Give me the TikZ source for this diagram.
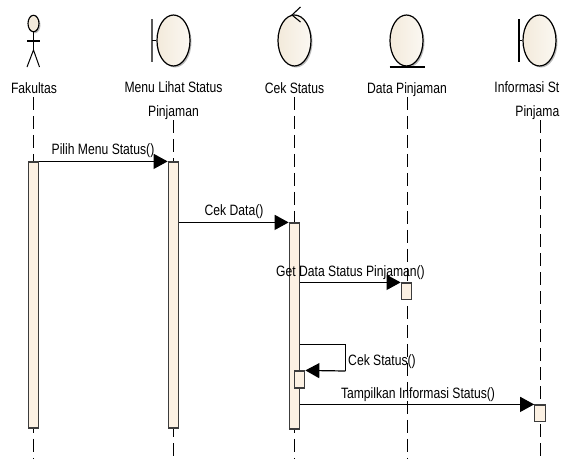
\documentclass[tikz,border=0pt]{standalone}
\usepackage{fontspec}
\setmainfont[FakeStretch=0.81]{Liberation Sans}
\usetikzlibrary{shapes.geometric,arrows.meta,shadows}

\definecolor{creamL}{HTML}{F3EADB}
\definecolor{creamR}{HTML}{FBF8F2}
\definecolor{barfill}{HTML}{FCF1E3}
\definecolor{barline}{HTML}{3C3C3C}

\tikzset{
  objball/.style={ellipse,draw,line width=1.2pt,minimum width=33pt,minimum height=51pt,inner sep=0pt,
    left color=creamL,right color=creamR,
    drop shadow={shadow xshift=1.5pt,shadow yshift=-1.5pt,fill=black!45,opacity=.6}},
  objlabel/.style={font=\fontsize{15}{24}\selectfont,align=center,inner sep=0pt},
  onelabel/.style={objlabel,text height=11pt,text depth=3.5pt},
  msglabel/.style={font=\fontsize{15}{16}\selectfont,inner sep=0pt},
  lifeline/.style={line width=1pt,dash pattern=on 13pt off 6pt},
  actbar/.style={draw=barline,fill=barfill,line width=1.2pt,minimum width=10.5pt,inner sep=0pt},
  msgarrow/.style={line width=1.2pt,-{Triangle[length=14pt,width=15pt]}}
}

\begin{document}
\begin{tikzpicture}[x=1pt,y=-1pt]
  \useasboundingbox (0,0) rectangle (576,459);

  % Labels of the objects
  \node[onelabel] (labFak) at (34,89.5) {Fakultas};
  \node[objlabel] (labMenu) at (173.5,101) {Menu Lihat Status\\Pinjaman};
  \node[onelabel] (labCek) at (294.5,89.5) {Cek Status};
  \node[onelabel] (labData) at (407,89.5) {Data Pinjaman};
  \node[objlabel,align=right,anchor=east] (labInfo) at (559.5,101) {Informasi St\\Pinjama};

  % Free ends of the lifelines
  \coordinate (endFak) at (33.5,459);
  \coordinate (endMenu) at (173.5,459);
  \coordinate (endCek) at (294.5,459);
  \coordinate (endData) at (407,459);
  \coordinate (endInfo) at (540,459);

  % Draw lifelines
  \draw[lifeline] (labFak.south -| endFak) -- (endFak);
  \draw[lifeline] (labMenu.south -| endMenu) -- (endMenu);
  \draw[lifeline] (labCek.south -| endCek) -- (endCek);
  \draw[lifeline] (labData.south -| endData) -- (endData);
  \draw[lifeline] (labInfo.south -| endInfo) -- (endInfo);

  % Draw actor
  \node[ellipse,draw,line width=1.1pt,minimum width=11pt,minimum height=16.5pt,inner sep=0pt,fill=creamL,
    drop shadow={shadow xshift=1.5pt,shadow yshift=-1.5pt,fill=black!45,opacity=.6}] (fakHead) at (33.5,23.5) {};
  \coordinate (fakHip) at (33.5,50);
  \coordinate (fakArmL) at (27,41);
  \coordinate (fakArmR) at (40,41);
  \coordinate (fakLegL) at (27,67);
  \coordinate (fakLegR) at (39.5,67);
  \draw[line width=1pt] (fakHead) -- (fakHip);
  \draw[line width=1.1pt] (fakArmL) -- (fakArmR);
  \draw[line width=1pt] (fakLegL) -- (fakHip) -- (fakLegR);

  % Draw boundary, control and entity objects
  \node[objball] (objMenu) at (173.5,40.5) {};
  \node[objball] (objCek) at (294.5,40.5) {};
  \node[objball] (objData) at (406.5,40.5) {};
  \node[objball] (objInfo) at (539.5,40.5) {};

  \coordinate (menuTop) at (152,19);
  \coordinate (menuBot) at (152,62);
  \draw[line width=1.1pt,black!65] (menuTop) -- (menuBot);
  \draw[line width=1.1pt] (objMenu.west) -- (menuTop |- objMenu.west);

  \coordinate (infoTop) at (519,19);
  \coordinate (infoBot) at (519,62);
  \draw[line width=1.1pt] (infoTop) -- (infoBot);
  \draw[line width=1.1pt] (objInfo.west) -- (infoTop |- objInfo.west);

  \coordinate (cekTipA) at (300.5,7);
  \coordinate (cekTipB) at (292,15);
  \coordinate (cekTipC) at (300.5,22);
  \draw[line width=1.1pt] (cekTipA) -- (cekTipB) -- (cekTipC);

  \coordinate (dataL) at (389.5,67);
  \coordinate (dataR) at (425,67);
  \draw[line width=1.2pt] (dataL) -- (dataR);

  % Draw activation bars
  \node[actbar,minimum height=266pt] (barFak) at (33.5,295) {};
  \node[actbar,minimum height=266pt] (barMenu) at (173.5,295) {};
  \node[actbar,minimum height=206pt] (barCek) at (294.5,326) {};
  \node[actbar,minimum height=16.5pt] (barData) at (406.5,291.25) {};
  \node[actbar,minimum height=17pt] (barSelf) at (299.5,379.5) {};
  \node[actbar,minimum height=16.5pt] (barInfo) at (540,413.25) {};

  % Draw messages
  \draw[msgarrow] (barFak.north east) -- (barMenu.north west);
  \draw[msgarrow] (barMenu.east |- barCek.north) -- (barCek.north west);
  \draw[msgarrow] (barCek.east |- barData.north) -- (barData.north west);
  \coordinate (selfA) at (345.5,344.5);
  \coordinate (selfB) at (345.5,371);
  \draw[line width=1.2pt] (barCek.east |- selfA) -- (selfA) -- (selfB);
  \draw[msgarrow] (selfB) -- (barSelf.north east);
  \draw[msgarrow] (barCek.east |- barInfo.north) -- (barInfo.north west);

  % Message labels
  \node[msglabel] (txtPilih) at (103,151) {Pilih Menu Status()};
  \node[msglabel] (txtData) at (234,212) {Cek Data()};
  \node[msglabel] (txtGet) at (350.5,273) {Get Data Status Pinjaman()};
  \node[msglabel] (txtSelf) at (382,362) {Cek Status()};
  \node[msglabel] (txtShow) at (418,395) {Tampilkan Informasi Status()};
\end{tikzpicture}
\end{document}
